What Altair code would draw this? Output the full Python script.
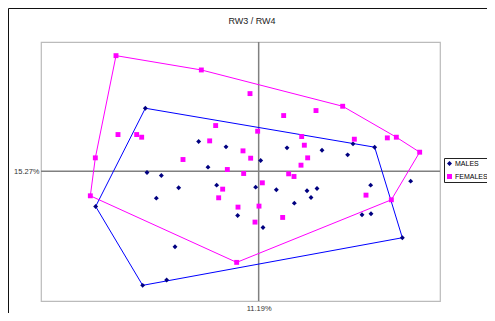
import altair as alt
import pandas as pd

# ---- data (arbitrary RW3 / RW4 score units) ----
males_x = [-3.40, 3.48, 4.31, -3.48, -4.89, -2.76, -2.51, -1.80, -0.98, -1.52, -3.35,
           -2.92, -2.40, -3.07, -1.26, -0.63, -0.09, 0.06, 0.13, 0.85, 1.90, 2.83,
           2.67, 0.53, 1.45, 1.75, 1.57, 1.07, 3.36, 3.10, 3.37, 4.56]
males_y = [1.89, 0.72, -2.00, -3.43, -1.06, -3.27, -2.27, 0.89, 0.73, 0.12, -0.04,
           -0.13, -0.50, -0.81, -0.42, -1.33, -0.48, 0.32, -1.69, 0.70, 0.63, 0.82,
           0.49, -0.56, -0.59, -0.52, -0.79, -0.96, -0.42, -1.31, -1.28, -0.30]
females_x = [-4.28, -1.72, 2.52, 4.13, 4.83, 3.98, -0.66, -5.05, -4.90, -0.26, 0.75,
             1.72, -1.29, -0.03, -4.22, -3.66, -3.51, -1.47, -0.47, -0.24, -2.27, -0.94,
             -0.45, 1.29, 1.37, 1.47, 1.27, 0.90, 1.06, 0.11, 2.87, 3.86, 3.22, -1.08,
             -1.20, -0.62, 0.01, -0.11, 0.72]
females_y = [3.47, 3.04, 1.95, 1.02, 0.57, -0.86, -2.74, -0.74, 0.40, 2.33, 1.67,
             1.82, 1.37, 1.20, 1.10, 1.10, 1.02, 0.91, 0.61, 0.39, 0.35, 0.05,
             -0.07, 1.04, 0.78, 0.40, 0.18, -0.08, -0.16, -0.35, 0.96, 1.00, -0.72, -0.54,
             -0.80, -1.08, -1.05, -1.53, -1.39]
males_hull = [0, 1, 2, 3, 4, 0]
females_hull = [0, 1, 2, 3, 4, 5, 6, 7, 8, 0]
groups = ["MALES", "FEMALES"]
colors = ["#000080", "#FF00FF"]
hull_colors = ["#0000FF", "#FF00FF"]
shapes = ["diamond", "square"]
x_label = "11.19%"
y_label = "15.27%"
title_text = "RW3 / RW4"
x_domain = [-6.53, 5.44]
y_domain = [-3.90, 3.88]

FONT = "Liberation Sans"

pts = pd.DataFrame({
    "x": males_x + females_x,
    "y": males_y + females_y,
    "group": [groups[0]] * len(males_x) + [groups[1]] * len(females_x),
})

m_hull = pd.DataFrame({"x": [males_x[i] for i in males_hull],
                       "y": [males_y[i] for i in males_hull],
                       "order": list(range(len(males_hull)))})
f_hull = pd.DataFrame({"x": [females_x[i] for i in females_hull],
                       "y": [females_y[i] for i in females_hull],
                       "order": list(range(len(females_hull)))})

xs = alt.Scale(domain=x_domain, nice=False, zero=False)
ys = alt.Scale(domain=y_domain, nice=False, zero=False)

xaxis = alt.Axis(values=[0], labelExpr=f"'{x_label}'", ticks=False, domain=False,
                 grid=False, title=None, labelFontSize=7.5, labelPadding=3,
                 labelColor="#333333", labelFont=FONT)
yaxis = alt.Axis(values=[0], labelExpr=f"'{y_label}'", ticks=False, domain=False,
                 grid=False, title=None, labelFontSize=7.5, labelPadding=2,
                 labelColor="#333333", labelFont=FONT)

one = pd.DataFrame({"v": [0]})

vrule = alt.Chart(one).mark_rule(color="#808080", strokeWidth=1.5).encode(
    x=alt.X("v:Q", scale=xs, axis=xaxis))
hrule = alt.Chart(one).mark_rule(color="#808080", strokeWidth=1.5).encode(
    y=alt.Y("v:Q", scale=ys, axis=yaxis))

m_line = alt.Chart(m_hull).mark_line(color=hull_colors[0], strokeWidth=1).encode(
    x=alt.X("x:Q", scale=xs, axis=xaxis), y=alt.Y("y:Q", scale=ys, axis=yaxis),
    order="order:Q")
f_line = alt.Chart(f_hull).mark_line(color=hull_colors[1], strokeWidth=1).encode(
    x=alt.X("x:Q", scale=xs, axis=xaxis), y=alt.Y("y:Q", scale=ys, axis=yaxis),
    order="order:Q")

leg = alt.Legend(orient="none", legendX=403, legendY=116, title=None,
                 strokeColor="#222222", fillColor="white", padding=2,
                 rowPadding=5, symbolSize=25, symbolStrokeWidth=0,
                 labelFontSize=7, labelFont=FONT, labelColor="#000000",
                 labelOffset=2)

points = alt.Chart(pts).mark_point(filled=True, size=24, opacity=1).encode(
    x=alt.X("x:Q", scale=xs, axis=xaxis),
    y=alt.Y("y:Q", scale=ys, axis=yaxis),
    color=alt.Color("group:N", scale=alt.Scale(domain=groups, range=colors), legend=leg),
    shape=alt.Shape("group:N", scale=alt.Scale(domain=groups, range=shapes), legend=leg),
)

title = alt.Chart(pd.DataFrame({"t": [title_text]})).mark_text(
    fontSize=9, font=FONT, color="#222222", baseline="middle", align="center"
).encode(text="t:N", x=alt.value(211), y=alt.value(-21.3))

border_l = alt.Chart(one).mark_rule(color="#111111", strokeWidth=1).encode(
    x=alt.value(-32.5), y=alt.value(-33.5), y2=alt.value(300))
border_t = alt.Chart(one).mark_rule(color="#111111", strokeWidth=1).encode(
    x=alt.value(-32.5), x2=alt.value(460), y=alt.value(-33.5))

chart = alt.layer(vrule, hrule, m_line, f_line, points, title, border_l, border_t).properties(
    width=399, height=259,
    autosize=alt.AutoSizeParams(type="none"),
    padding={"left": 33, "top": 34, "right": 47, "bottom": 12},
    background="white",
).configure_view(stroke="#BBBBBB", strokeWidth=1.2)

chart.save("out.html", embed_options={"renderer": "svg", "actions": False})
